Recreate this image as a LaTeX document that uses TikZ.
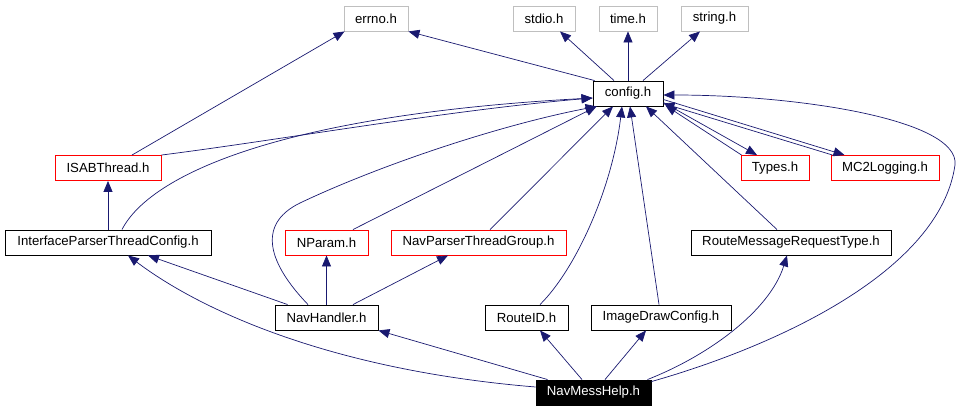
\documentclass[tikz,border=0pt]{standalone}
\usepackage{fontspec}
\setmainfont{Liberation Sans}
\usetikzlibrary{arrows.meta}
\definecolor{edgeblue}{HTML}{191970}
\definecolor{sysgray}{HTML}{BFBFBF}
\definecolor{incred}{HTML}{FF0000}
\begin{document}
\begin{tikzpicture}[x=1pt,y=-1pt,
  box/.style={draw=black,line width=0.9pt,fill=white,minimum height=25pt,inner sep=0pt,
    font=\fontsize{13.2}{15}\selectfont,text=black},
  sysbox/.style={box,draw=sysgray},
  redbox/.style={box,draw=incred},
  curbox/.style={box,fill=black,text=white},
  dep/.style={draw=edgeblue,line width=0.7pt,-{Triangle[length=11pt,width=9pt]},fill=none},
]
\useasboundingbox (0,0) rectangle (961,411);
% nodes
\node[sysbox,minimum width=64pt]  (errno)  at (376,18.5) {errno.h};
\node[sysbox,minimum width=62pt]  (stdio)  at (544,18.5) {stdio.h};
\node[sysbox,minimum width=58pt]  (time)   at (628,18.5) {time.h};
\node[sysbox,minimum width=67pt]  (string) at (714.5,18.5) {string.h};
\node[box,minimum width=70pt]     (config) at (628,93.5) {config.h};
\node[redbox,minimum width=106pt] (isab)   at (108,168) {ISABThread.h};
\node[redbox,minimum width=68pt]  (types)  at (775,168) {Types.h};
\node[redbox,minimum width=108pt] (mc2)    at (885,168) {MC2Logging.h};
\node[box,minimum width=206pt]    (iptc)   at (108,242.5) {InterfaceParserThreadConfig.h};
\node[redbox,minimum width=83pt]  (nparam) at (326.5,242.5) {NParam.h};
\node[redbox,minimum width=175pt] (nptg)   at (478.5,242.5) {NavParserThreadGroup.h};
\node[box,minimum width=200pt]    (rmrt)   at (791,242.5) {RouteMessageRequestType.h};
\node[box,minimum width=103pt]    (navh)   at (326.5,317.5) {NavHandler.h};
\node[box,minimum width=83pt]     (routeid) at (526.5,317.5) {RouteID.h};
\node[box,minimum width=140pt]    (idc)    at (661,317.5) {ImageDrawConfig.h};
\node[curbox,minimum width=115pt] (nmh)    at (593.5,392.5) {NavMessHelp.h};
% edges
\draw[dep] ([shift={(2,0)}]config.north west) -- (errno.south east);
\draw[dep] ([shift={(-14,0)}]config.north) -- ([shift={(16,0)}]stdio.south);
\draw[dep] (config.north) -- (time.south);
\draw[dep] ([shift={(15,0)}]config.north) -- ([shift={(-14.5,0)}]string.south);
\draw[dep] ([shift={(24,0)}]isab.north) -- ([shift={(1,0)}]errno.south west);
\draw[dep] (isab.north east) .. controls (280,140) and (450,110) .. ([shift={(0,4.5)}]config.west);
\draw[dep] ([shift={(14,0)}]iptc.north) .. controls (150,175) and (280,115) .. ([shift={(0,4.5)}]config.west);
\draw[dep] ([shift={(26.5,0)}]nparam.north) -- ([shift={(4,0)}]config.south west);
\draw[dep] ([shift={(-18.5,0)}]navh.north) .. controls (270,265) and (255,225) .. (300,203)
  .. controls (380,165) and (500,125) .. ([shift={(4,0)}]config.south west);
\draw[dep] ([shift={(11.5,0)}]nptg.north) -- ([shift={(-15,0)}]config.south);
\draw[dep] ([shift={(13.5,0)}]routeid.north) .. controls (575,270) and (612,190) .. ([shift={(-6,0)}]config.south);
\draw[dep] ([shift={(-2,0)}]idc.north) -- ([shift={(2,0)}]config.south);
\draw[dep] ([shift={(-14,0)}]rmrt.north) -- ([shift={(18,0)}]config.south);
\draw[dep] ([shift={(0,9)}]config.east) -- ([shift={(-18,0)}]types.north);
\draw[dep] ([shift={(1,0)}]types.north west) -- ([shift={(2,-1)}]config.south east);
\draw[dep] ([shift={(0,6)}]config.east) -- ([shift={(14,0)}]mc2.north west);
\draw[dep] ([shift={(2,0)}]mc2.north west) -- ([shift={(0,10)}]config.east);
\draw[dep] ([shift={(0,2)}]nmh.north east) .. controls (780,345) and (940,270) .. (955,165)
  .. controls (960,120) and (800,95) .. ([shift={(0,1.5)}]config.east);
\draw[dep] ([shift={(-4,0)}]nmh.north east) .. controls (710,355) and (770,310) .. ([shift={(-4,0)}]rmrt.south);
\draw[dep] ([shift={(11.5,0)}]nmh.north) -- ([shift={(-15,0)}]idc.south);
\draw[dep] ([shift={(-11.5,0)}]nmh.north) -- ([shift={(13.5,0)}]routeid.south);
\draw[dep] ([shift={(12,0)}]nmh.north west) -- (navh.south east);
\draw[dep] ([shift={(0,-5.5)}]nmh.west) .. controls (330,370) and (200,310) .. ([shift={(20,0)}]iptc.south);
\draw[dep] ([shift={(13,0)}]navh.north west) -- ([shift={(40,0)}]iptc.south);
\draw[dep] (navh.north) -- (nparam.south);
\draw[dep] ([shift={(26.5,0)}]navh.north) -- ([shift={(-30.5,0)}]nptg.south);
\draw[dep] (iptc.north) -- (isab.south);
\end{tikzpicture}
\end{document}
